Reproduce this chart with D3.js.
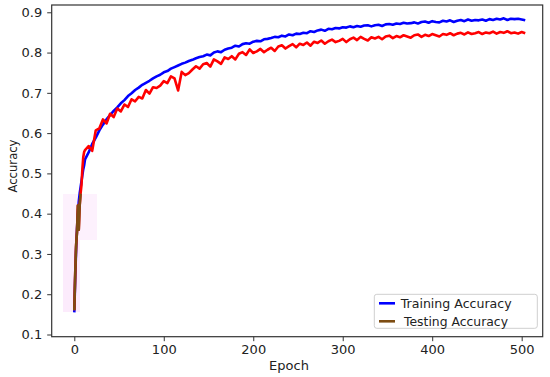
<!DOCTYPE html>
<html><head><meta charset="utf-8">
<script src="https://cdn.jsdelivr.net/npm/d3@7"></script>
<style>body{margin:0;background:#fff;} svg{display:block;font-family:"DejaVu Sans",sans-serif;}</style>
</head><body><svg id="c" width="550" height="377"></svg>
<script>
const epochs = [0,1,2,3,4,5,6,7,8,9,10,11,12,
16,20,24,28,32,36,40,44,48,52,
56,60,64,68,72,76,80,84,88,92,
96,100,104,108,112,116,120,124,128,132,
136,140,144,148,152,156,160,164,168,172,
176,180,184,188,192,196,200,204,208,212,
216,220,224,228,232,236,240,244,248,252,
256,260,264,268,272,276,280,284,288,292,
296,300,304,308,312,316,320,324,328,332,
336,340,344,348,352,356,360,364,368,372,
376,380,384,388,392,396,400,404,408,412,
416,420,424,428,432,436,440,444,448,452,
456,460,464,468,472,476,480,484,488,492,
496,500,504];
const trainAcc = [0.155,0.24,0.31,0.36,0.40,0.43,0.45,0.465,0.48,0.495,0.51,0.52,0.535,
0.552,0.573,0.589,0.607,0.621,0.634,0.645,0.655,0.664,0.674,
0.682,0.692,0.699,0.707,0.713,0.720,0.725,0.730,0.736,0.741,
0.745,0.751,0.754,0.760,0.764,0.768,0.772,0.775,0.779,0.782,
0.786,0.789,0.791,0.795,0.793,0.800,0.803,0.801,0.807,0.810,
0.812,0.817,0.815,0.821,0.823,0.822,0.827,0.829,0.828,0.833,
0.834,0.836,0.839,0.838,0.842,0.840,0.845,0.843,0.847,0.846,
0.849,0.848,0.853,0.851,0.855,0.857,0.854,0.859,0.858,0.861,
0.860,0.863,0.862,0.865,0.863,0.866,0.864,0.867,0.868,0.865,
0.868,0.869,0.866,0.870,0.871,0.869,0.872,0.871,0.874,0.872,
0.873,0.875,0.872,0.876,0.877,0.874,0.878,0.876,0.875,0.879,
0.877,0.880,0.876,0.879,0.881,0.878,0.882,0.879,0.881,0.880,
0.882,0.879,0.883,0.881,0.884,0.882,0.885,0.881,0.884,0.883,
0.884,0.882,0.880];
const testAcc = [0.16,0.25,0.32,0.355,0.42,0.36,0.42,0.45,0.47,0.51,0.54,0.553,0.558,
0.568,0.556,0.607,0.612,0.634,0.624,0.648,0.640,0.661,0.654,
0.671,0.665,0.684,0.679,0.690,0.686,0.707,0.698,0.714,0.712,
0.718,0.729,0.724,0.741,0.736,0.706,0.752,0.744,0.749,0.758,
0.766,0.760,0.771,0.774,0.765,0.783,0.778,0.772,0.788,0.784,
0.791,0.783,0.797,0.801,0.794,0.808,0.799,0.803,0.809,0.801,
0.807,0.812,0.804,0.815,0.818,0.810,0.816,0.821,0.813,0.822,
0.819,0.825,0.817,0.827,0.824,0.830,0.822,0.828,0.832,0.826,
0.829,0.834,0.826,0.833,0.837,0.831,0.839,0.834,0.830,0.838,
0.835,0.839,0.833,0.840,0.842,0.836,0.841,0.838,0.843,0.840,
0.837,0.843,0.845,0.839,0.844,0.841,0.846,0.843,0.840,0.846,
0.844,0.848,0.843,0.847,0.849,0.845,0.850,0.846,0.848,0.851,
0.846,0.850,0.848,0.852,0.847,0.851,0.849,0.853,0.848,0.850,
0.847,0.851,0.848];
const xTicks = [0,100,200,300,400,500];
const yTicks = [0.1,0.2,0.3,0.4,0.5,0.6,0.7,0.8,0.9];
const seriesNames = ["Training Accuracy","Testing Accuracy"];
const seriesColors = ["#0000ff","#ff0000"];
const legendTestColor = "#7d4c12";

const svg = d3.select("#c");
const x = d3.scaleLinear().domain([-25.26, 523.5]).range([51.7, 542.7]);
const y = d3.scaleLinear().domain([0.09454, 0.9181]).range([336.7, 5]);

// faint pink artifacts
svg.append("rect").attr("x",63).attr("y",194).attr("width",34).attr("height",46).attr("fill","#fdf1fd");
svg.append("rect").attr("x",63).attr("y",240).attr("width",17).attr("height",72).attr("fill","#fcebfc");

const line = d3.line().x(d=>x(d[0])).y(d=>y(d[1]));
const trainPts = epochs.map((e,i)=>[e,trainAcc[i]]);
const testPts = epochs.map((e,i)=>[e,testAcc[i]]);

svg.append("path").datum(trainPts).attr("d",line).attr("fill","none")
  .attr("stroke",seriesColors[0]).attr("stroke-width",2.6).attr("stroke-linejoin","round");
svg.append("path").datum(testPts).attr("d",line).attr("fill","none")
  .attr("stroke",seriesColors[1]).attr("stroke-width",2.6).attr("stroke-linejoin","round");
svg.append("path").datum(testPts.slice(0,8)).attr("d",line).attr("fill","none")
  .attr("stroke",legendTestColor).attr("stroke-width",2.6).attr("stroke-linejoin","round");

// axes
const gx = svg.append("g").attr("transform","translate(0,336.7)")
  .call(d3.axisBottom(x).tickValues(xTicks).tickFormat(d3.format("d")).tickSize(4.5).tickPadding(4));
const gy = svg.append("g").attr("transform","translate(51.7,0)")
  .call(d3.axisLeft(y).tickValues(yTicks).tickFormat(d3.format(".1f")).tickSize(4.5).tickPadding(5));
[gx,gy].forEach(g=>{
  g.select(".domain").remove();
  g.selectAll("text").attr("font-size",13).attr("fill","#222").attr("font-family","DejaVu Sans");
  g.selectAll("line").attr("stroke","#333");
});
// frame
svg.append("rect").attr("x",x.range()[0]).attr("y",y.range()[1])
  .attr("width",x.range()[1]-x.range()[0]).attr("height",y.range()[0]-y.range()[1])
  .attr("fill","none").attr("stroke","#333").attr("stroke-width",1.2);

svg.append("text").attr("x",289).attr("y",369.5).attr("text-anchor","middle")
  .attr("font-size",13).attr("fill","#222").text("Epoch");
svg.append("text").attr("transform","translate(16.5,166) rotate(-90)").attr("text-anchor","middle")
  .attr("font-size",13).attr("fill","#222").attr("textLength",53).attr("lengthAdjust","spacingAndGlyphs").text("Accuracy");

// legend
const lg = svg.append("g");
lg.append("rect").attr("x",374.3).attr("y",294.3).attr("width",163).attr("height",34).attr("rx",2.5)
  .attr("fill","#fff").attr("fill-opacity",0.9).attr("stroke","#cfcfcf").attr("stroke-width",1);
const legendColors = [seriesColors[0], legendTestColor];
const legendY = [303.3, 321.3];
const legendTx = [400.7, 404];
const legendLen = [111, 104];
seriesNames.forEach((n,i)=>{
  lg.append("line").attr("x1",379).attr("x2",395).attr("y1",legendY[i]).attr("y2",legendY[i])
    .attr("stroke",legendColors[i]).attr("stroke-width",2.6);
  lg.append("text").attr("x",legendTx[i]).attr("y",legendY[i]+4.3).attr("font-size",12.5)
    .attr("fill","#222").attr("textLength",legendLen[i]).attr("lengthAdjust","spacingAndGlyphs").text(n);
});
</script></body></html>
